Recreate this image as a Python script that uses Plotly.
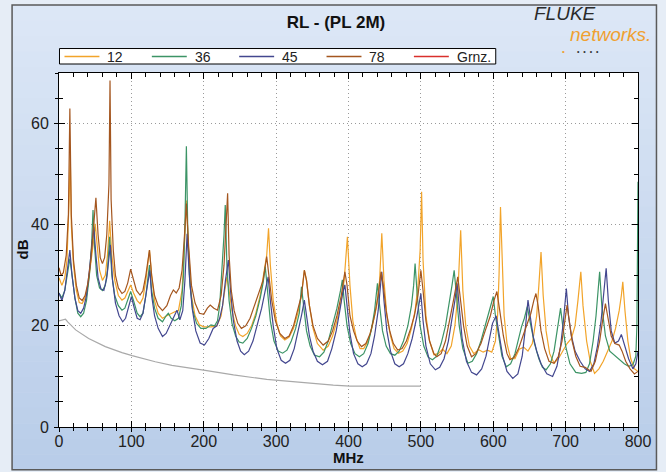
import plotly.graph_objects as go

# Return loss traces per pair: (frequency MHz, return loss dB)
pair_12 = [
    (0, 29.5), (4, 28), (8, 29.5), (11, 33), (14, 45), (15.5, 54), (17, 40), (20, 32), (24, 27),
    (28, 24.6), (32, 24.4), (36, 25.5), (40, 28), (44, 32), (48, 37), (50, 40.2), (53, 36),
    (56, 31), (60, 29), (64, 30), (67, 34), (70, 40.8), (73, 34), (77, 29), (82, 26), (87, 25.1),
    (91, 25.5), (95, 27), (99, 28.1), (103, 26.5), (108, 25), (112, 24.4), (116, 25.5), (120, 29),
    (123, 32), (125, 35), (128, 30), (132, 25), (137, 22.5), (143, 21.5), (149, 22), (155, 22.5),
    (160, 22.8), (165, 23), (170, 27), (173, 35), (176, 44.8), (179, 35), (183, 26), (188, 22),
    (194, 20.2), (200, 19.8), (210, 19.8), (218, 20), (224, 22), (228, 26), (232, 29.7), (235, 27),
    (239, 23), (244, 20), (249, 18.3), (254, 17.9), (260, 18.5), (266, 20), (272, 22.5), (278, 26),
    (283, 30), (287, 34), (289.5, 39.3), (292, 32), (296, 25), (301, 20.5), (306, 18), (312, 17.2),
    (318, 17.8), (324, 19.5), (330, 22.5), (335, 26), (339, 31), (342, 29), (346, 24), (351, 19.5),
    (357, 16.5), (365, 15.2), (372, 16), (378, 18), (384, 21), (390, 25), (394, 29), (398.5, 37.6),
    (402, 28), (406, 21), (411, 17.5), (416, 15.5), (421, 15.5), (427, 17), (433, 20), (439, 24),
    (443, 29), (446, 38.3), (449, 29), (453, 22), (458, 18), (463, 15.5), (469, 14.6), (475, 15),
    (481, 16.5), (487, 19.5), (492, 23), (496, 28), (499, 35), (501, 46.5), (503, 33), (507, 22),
    (512, 17), (518, 14.3), (524, 14.5), (530, 15.4), (536, 14.5), (542, 16), (547, 20), (551, 26),
    (555, 38.9), (558, 27), (562, 20), (567, 16), (573, 14.5), (580, 15.3), (586, 14.8), (592, 15.2),
    (598, 14.8), (603, 17), (606, 22), (608, 30), (610, 43.5), (612, 33), (615, 22), (619, 16.5),
    (624, 13.5), (630, 13.5), (636, 15.4), (642, 15.8), (648, 15), (654, 16.5), (660, 22), (663, 28),
    (666, 34.6), (669, 26), (673, 19), (678, 14.5), (684, 12.6), (690, 13.5), (696, 15), (702, 16.5),
    (708, 17.5), (713, 20), (717, 25), (721, 30.7), (724, 24), (729, 17), (734, 13), (740, 10.6),
    (746, 11.5), (752, 13), (758, 15), (764, 17), (769, 19.5), (774, 23), (777, 26), (779, 28.7),
    (782, 23), (786, 17), (790, 13.5), (795, 11.5), (800, 11),
]

pair_36 = [
    (0, 26.5), (4, 25.5), (8, 27), (12, 31), (15, 33.3), (18, 30), (22, 25.5), (26, 22.5),
    (30, 21.8), (34, 22.5), (38, 25), (42, 30), (45, 36), (47, 42.9), (49, 36), (52, 30),
    (56, 27.5), (60, 27), (64, 28), (67, 31), (70, 37.6), (73, 30), (77, 26), (82, 24), (87, 23.1),
    (91, 23.5), (95, 25), (99, 26.8), (103, 25), (108, 22.5), (112, 21.8), (116, 22.5), (120, 26),
    (123, 30), (125, 32), (128, 27), (132, 23.5), (137, 21.5), (143, 20.8), (148, 22), (151, 22.5),
    (155, 21.5), (160, 21), (165, 21.5), (169, 24), (172, 30), (174, 40), (176, 55.5), (178, 38),
    (181, 28), (185, 23), (190, 20.5), (196, 19.5), (203, 19.5), (210, 20.2), (215, 20), (219, 21),
    (222, 24), (225, 30), (228, 38), (229.7, 43.9), (232, 32), (235, 25), (239, 20.5), (244, 18),
    (249, 16.8), (254, 16.6), (260, 17.5), (266, 19.5), (272, 22), (278, 25.5), (282, 28.5),
    (285, 31.7), (288, 27), (292, 21), (297, 17), (303, 15), (309, 14.6), (315, 15.2), (321, 17),
    (327, 19.5), (332, 22.5), (335, 27.7), (338, 24), (342, 19), (347, 16), (353, 14.2), (360, 13.9),
    (366, 14.8), (372, 17), (378, 20), (384, 23.5), (389, 27), (391.5, 29.1), (394, 25), (398, 20),
    (403, 16.5), (409, 14.5), (415, 13.9), (421, 14.5), (427, 16.5), (432, 19.5), (436, 23),
    (440, 28.4), (443, 24), (447, 19), (452, 16), (458, 14.5), (464, 14.2), (470, 15), (476, 17),
    (482, 20), (487, 24), (490, 28), (492, 32.3), (495, 26), (499, 20), (504, 16), (510, 13.8),
    (516, 13.3), (522, 14), (528, 16.5), (534, 20), (539, 24), (543, 28), (546, 31), (549, 26),
    (553, 20), (558, 15.5), (565, 12.6), (571, 13), (577, 14.5), (583, 17), (589, 20), (594, 23),
    (597, 24.4), (600, 25.8), (603, 22), (607, 18), (612, 14), (618, 11.9), (624, 12.5), (630, 14.5),
    (635, 17.5), (639, 19.8), (643, 21.5), (647, 23.8), (652, 20), (657, 16.5), (663, 13.5),
    (668, 11.8), (673, 11.3), (679, 12.5), (684, 15), (688, 18.5), (691, 22), (693, 23.5), (696, 20),
    (700, 16), (706, 12.5), (714, 10.8), (722, 10.6), (728, 10.8), (733, 12.5), (738, 17), (742, 22),
    (745, 27), (747, 30.7), (750, 24), (755, 18), (761, 15), (767, 14.3), (774, 13.5), (781, 12.5),
    (787, 12), (793, 12.3), (797, 14), (798.5, 20), (800, 48.5),
]

pair_45 = [
    (0, 26.5), (4, 25), (8, 27), (12, 31), (15, 35), (18, 30), (22, 25.5), (26, 23), (30, 22.5),
    (34, 23.5), (38, 26), (42, 31), (46, 36), (48, 39.6), (51, 34), (54, 29.5), (58, 27.3), (62, 27),
    (66, 29.5), (69, 33), (71, 36), (74, 29), (78, 24.5), (83, 22), (88, 20.8), (92, 21.5),
    (96, 23.5), (100, 25.8), (104, 23.5), (108, 21.5), (112, 21.2), (116, 22.5), (120, 26),
    (123, 29), (125.5, 31), (128, 26), (132, 22), (137, 19.5), (143, 17.9), (148, 18.5), (153, 20),
    (158, 21.5), (163, 23.1), (167, 21.2), (171, 23), (174, 29), (177, 38.2), (180, 30), (184, 23.5),
    (189, 19), (195, 16.6), (201, 16.2), (207, 17.5), (213, 19.5), (218, 20), (222, 21.5), (226, 24),
    (230, 29), (234, 33), (237, 27), (241, 21), (246, 17), (251, 15), (256, 14.3), (262, 15),
    (268, 17), (274, 20), (280, 23.5), (285, 27), (289, 29.7), (292, 25), (296, 20), (301, 15.5),
    (307, 13.2), (313, 12.6), (319, 13.2), (325, 15.5), (330, 18.5), (335, 22), (339, 25.1),
    (342, 22), (346, 18), (351, 15), (357, 13), (364, 12.3), (371, 13), (377, 15.5), (383, 19),
    (388, 23), (392, 26.5), (395, 28.1), (398, 24), (402, 18.5), (407, 14.5), (413, 12.5),
    (419, 11.9), (425, 12.5), (431, 14.5), (436, 18), (441, 23), (444, 27.5), (446, 30.7), (449, 25),
    (453, 19), (458, 15), (464, 12.5), (470, 11.9), (476, 12.5), (482, 14.5), (488, 17.5),
    (494, 21.5), (498, 25), (500, 26.4), (503, 21), (507, 16), (513, 12.5), (520, 11.3), (526, 11.8),
    (532, 13.5), (538, 17), (543, 21), (547, 25), (550, 28.4), (553, 23), (557, 17.5), (563, 13),
    (570, 10.8), (577, 10.3), (584, 11.5), (590, 14), (595, 17.5), (599, 20.5), (604, 22), (608, 18),
    (613, 14), (619, 11), (627, 9.6), (634, 10.5), (640, 14), (644, 19), (648, 25.1), (651, 22),
    (655, 18), (660, 15), (666, 12.5), (674, 10.5), (682, 10), (688, 12), (693, 16), (697, 21),
    (701, 27.4), (704, 22), (708, 18), (713, 15), (720, 13), (727, 11.5), (733, 11), (739, 12.5),
    (744, 16), (749, 21), (753, 27), (756, 31.4), (759, 25), (763, 19), (768, 16.6), (773, 17),
    (777, 18.3), (782, 16), (787, 13.5), (793, 11.5), (797, 12.5), (800, 14.9),
]

pair_78 = [
    (0, 31.5), (3, 30), (6, 30.5), (10, 34), (13, 42), (15, 63), (17, 42), (20, 33), (24, 28),
    (28, 25.5), (32, 25), (36, 26), (40, 28.5), (44, 33), (48, 40), (51, 45.3), (54, 38), (57, 33.5),
    (60, 32.3), (63, 33.5), (66, 38), (69, 48), (70.5, 68.5), (72, 45), (75, 35), (78, 30),
    (82, 27.5), (87, 26.4), (91, 26.8), (95, 28.5), (99, 31.2), (103, 29), (107, 27), (112, 26.1),
    (116, 27), (120, 30), (123, 33), (125, 35), (128, 30), (132, 26), (137, 24), (143, 23), (149, 24),
    (154, 26), (158, 27.1), (162, 26.5), (166, 27.5), (170, 31), (173, 37), (176, 44.2), (179, 36),
    (183, 28), (188, 24.5), (194, 22.5), (200, 22.3), (205, 23.5), (209, 24.1), (214, 23.5),
    (219, 23.1), (224, 26), (228, 32), (231, 40), (233, 46.2), (235, 34), (238, 27), (242, 23),
    (247, 20.5), (252, 19.5), (258, 20), (264, 21.5), (270, 24), (276, 26.5), (282, 29), (287, 33.7),
    (290, 30), (294, 25), (299, 21), (305, 18.5), (312, 17.5), (318, 18), (324, 20), (330, 23),
    (335, 26), (339, 31), (342, 29), (346, 24), (351, 20), (357, 17.5), (365, 16.2), (372, 17),
    (378, 19), (384, 22), (390, 26), (395, 30.7), (398, 28), (402, 22), (407, 19), (412, 17),
    (418, 15.9), (424, 16.5), (430, 18.5), (436, 22), (441, 26), (445, 30.7), (448, 28), (452, 23),
    (457, 19), (462, 16.5), (468, 15.2), (474, 15.5), (480, 17), (486, 19.5), (491, 22), (496, 26),
    (500, 31), (503, 27), (507, 21), (512, 17), (518, 14.5), (522, 13.9), (528, 14.5), (534, 17),
    (540, 21), (545, 25), (551, 29.7), (555, 25), (559, 20), (564, 16), (570, 13.9), (576, 14.5),
    (583, 16.5), (590, 19.5), (596, 22), (601, 25), (605, 26.8), (609, 23), (614, 18), (619, 14.5),
    (623, 13.3), (629, 13.8), (635, 15.5), (641, 18), (647, 20.5), (652, 22.5), (656, 25),
    (659, 26.4), (662, 24), (666, 19), (671, 15.5), (677, 13), (684, 12.6), (690, 14), (695, 17),
    (699, 21), (702, 24.1), (705, 21), (709, 17), (714, 14), (720, 12), (727, 11.8), (735, 11),
    (741, 13), (747, 17), (751, 21), (755, 24.4), (758, 22), (763, 18), (768, 16.5), (774, 16.2),
    (778, 15), (783, 13), (789, 11.5), (795, 10.5), (800, 11),
]

# Limit line (Grenzwert), defined up to 500 MHz
pair_limit = [
    (0, 21.0), (9, 21.3), (12, 20.8), (23, 19.2), (41, 17.5), (64, 15.9), (87, 14.7), (101, 14.1),
    (133, 12.9), (156, 12.2), (202, 11.2), (241, 10.3), (287, 9.4), (333, 8.8), (379, 8.3),
    (402, 8.1), (450, 8.1), (500, 8.1),
]

series_names = ["12", "36", "45", "78"]
series_colors = ["#f2a42a", "#3c9466", "#43478f", "#a4561f"]
limit_name = "Grnz."
limit_color = "#a9a9a9"
limit_legend_color = "#d9302c"

x_ticks = [0, 100, 200, 300, 400, 500, 600, 700, 800]
y_ticks = [0, 20, 40, 60]

FONT = "Liberation Sans, Arial, sans-serif"

fig = go.Figure()

for name, color, pairs in zip(series_names, series_colors, [pair_12, pair_36, pair_45, pair_78]):
    fig.add_trace(go.Scatter(
        x=[p[0] for p in pairs], y=[p[1] for p in pairs], name=name, mode="lines",
        line=dict(color=color, width=1.2), showlegend=False,
    ))

# limit line lives on the overlay axes, which carry the outward half of the ticks
fig.add_trace(go.Scatter(
    x=[p[0] for p in pair_limit], y=[p[1] for p in pair_limit], name=limit_name, mode="lines",
    xaxis="x2", yaxis="y2", line=dict(color=limit_color, width=1.2), showlegend=False,
))

W, H = 666, 472
L, R, T, B = 58.5, 27.5, 73, 44.7
pw, ph = W - L - R, H - T - B


def px_x(px):
    return (px - L) / pw


def px_y(py):
    return (H - B - py) / ph


shapes = []
# outer panel with a soft vertical blue gradient
top_rgb = (0xdc, 0xe7, 0xf6)
bot_rgb = (0xb9, 0xcd, 0xe9)
n_band = 30
y_top, y_bot = 5, 470
for i in range(n_band):
    t = i / (n_band - 1)
    c = tuple(round(a + (b - a) * t) for a, b in zip(top_rgb, bot_rgb))
    y0 = y_top + (y_bot - y_top) * i / n_band
    y1 = y_top + (y_bot - y_top) * (i + 1) / n_band
    shapes.append(dict(type="rect", xref="paper", yref="paper", layer="below",
                       x0=px_x(11.5), x1=px_x(657), y0=px_y(y1 + 0.5), y1=px_y(y0),
                       fillcolor="rgb(%d,%d,%d)" % c, line=dict(width=0)))
shapes.append(dict(type="rect", xref="paper", yref="paper", layer="below",
                   x0=px_x(11.5), x1=px_x(657), y0=px_y(470), y1=px_y(5),
                   fillcolor="rgba(0,0,0,0)", line=dict(color="#5a5a5a", width=1.5)))
shapes.append(dict(type="rect", xref="paper", yref="paper", layer="below",
                   x0=0, x1=1, y0=0, y1=1, fillcolor="white", line=dict(width=0)))

annotations = [
    dict(text="<b>MHz</b>", x=px_x(348), y=px_y(458), xref="paper", yref="paper",
         xanchor="center", yanchor="middle",
         showarrow=False, font=dict(family=FONT, size=15, color="#111")),
    dict(text="<b>dB</b>", x=px_x(22), y=px_y(250), xref="paper", yref="paper", textangle=-90,
         xanchor="center", yanchor="middle",
         showarrow=False, font=dict(family=FONT, size=15, color="#111")),
    dict(text="<i>FLUKE</i>", x=px_x(565), y=px_y(13), xref="paper", yref="paper",
         xanchor="center", yanchor="middle",
         showarrow=False, font=dict(family=FONT, size=19, color="#2a2a2a")),
    dict(text="<i>networks.</i>", x=px_x(654), y=px_y(34), xref="paper", yref="paper",
         xanchor="right", yanchor="middle",
         showarrow=False, font=dict(family=FONT, size=19, color="#f0a030")),
    dict(text="•", x=px_x(564), y=px_y(51), xref="paper", yref="paper",
         xanchor="center", yanchor="middle",
         showarrow=False, font=dict(family=FONT, size=8, color="#f0a030")),
    dict(text="•  •  •  •", x=px_x(588), y=px_y(51), xref="paper", yref="paper",
         xanchor="center", yanchor="middle",
         showarrow=False, font=dict(family=FONT, size=7, color="#333")),
]

# legend box: one swatch + label per pair, then the limit entry
shapes.append(dict(type="rect", xref="paper", yref="paper", layer="above",
                   x0=px_x(59), x1=px_x(496), y0=px_y(64), y1=px_y(48.5),
                   fillcolor="white", line=dict(color="black", width=1)))
legend_names = series_names + [limit_name]
legend_colors = series_colors + [limit_legend_color]
for i, (nm, col) in enumerate(zip(legend_names, legend_colors)):
    x0 = 64 + i * 87.5
    shapes.append(dict(type="line", xref="paper", yref="paper", layer="above",
                       x0=px_x(x0), x1=px_x(x0 + 35), y0=px_y(56.5), y1=px_y(56.5),
                       line=dict(color=col, width=1.3)))
    annotations.append(dict(text=nm, x=px_x(x0 + 41), y=px_y(56.5), xref="paper", yref="paper",
                            xanchor="left", yanchor="middle", showarrow=False,
                            font=dict(family=FONT, size=14, color="#222")))

axis_common = dict(showline=True, linecolor="black", linewidth=1, zeroline=False)
grid_common = dict(showgrid=True, gridcolor="#9a9a9a", griddash="1px,3px", gridwidth=1)

fig.update_layout(
    width=W, height=H,
    margin=dict(l=L, r=R, t=T, b=B),
    paper_bgcolor="#e6edf6",
    plot_bgcolor="white",
    title=dict(text="<b>RL - (PL 2M)</b>", x=px_x(336), xref="paper", xanchor="center",
               y=1 - 22 / H, yanchor="middle", font=dict(family=FONT, size=17, color="#111")),
    font=dict(family=FONT, color="#222"),
    showlegend=False,
    xaxis=dict(range=[0, 800], tickvals=x_ticks, ticks="inside", ticklen=6, tickcolor="black",
               mirror="ticks",
               minor=dict(dtick=20, ticks="inside", ticklen=4, tickcolor="black", showgrid=False),
               tickfont=dict(family=FONT, size=16, color="#222"), ticklabelstandoff=0,
               **grid_common, **axis_common),
    yaxis=dict(range=[0, 70], tickvals=y_ticks, ticks="inside", ticklen=6, tickcolor="black",
               mirror="ticks",
               minor=dict(dtick=5, ticks="inside", ticklen=4, tickcolor="black", showgrid=False),
               tickfont=dict(family=FONT, size=16, color="#222"), ticklabelstandoff=6,
               **grid_common, **axis_common),
    xaxis2=dict(range=[0, 800], overlaying="x", side="bottom", anchor="y2", tickvals=x_ticks,
                ticks="outside", ticklen=4, tickcolor="black", showticklabels=False,
                showgrid=False, showline=False, zeroline=False,
                minor=dict(dtick=20, ticks="outside", ticklen=3, tickcolor="black", showgrid=False)),
    yaxis2=dict(range=[0, 70], overlaying="y", side="left", anchor="x2", tickvals=y_ticks,
                ticks="outside", ticklen=4, tickcolor="black", showticklabels=False,
                showgrid=False, showline=False, zeroline=False,
                minor=dict(dtick=5, ticks="outside", ticklen=3, tickcolor="black", showgrid=False)),
    shapes=shapes,
    annotations=annotations,
)

fig.write_html("out.html")
